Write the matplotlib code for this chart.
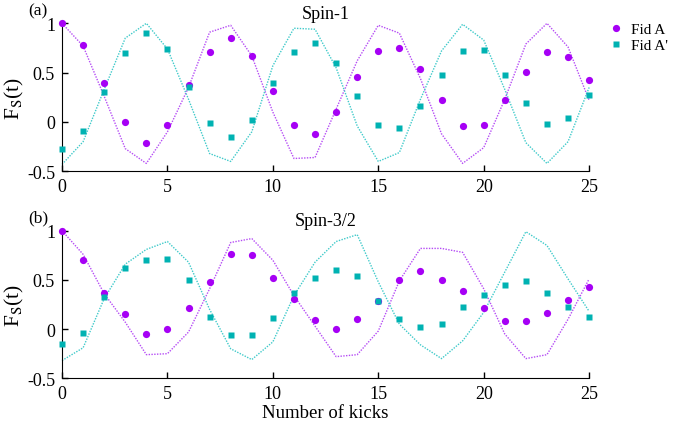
import numpy as np
import matplotlib
matplotlib.use('Agg')
import matplotlib.pyplot as plt

plt.rcParams['font.family'] = ['Liberation Serif', 'DejaVu Serif']
plt.rcParams['mathtext.fontset'] = 'stix'

kicks = np.arange(26)

# spin-1 panel
spin1_fid_a = [1.00, 0.78, 0.39, 0.00, -0.21, -0.03, 0.37, 0.71, 0.85, 0.67,
               0.31, -0.03, -0.12, 0.10, 0.46, 0.72, 0.75, 0.54, 0.22, -0.04,
               -0.03, 0.22, 0.51, 0.71, 0.66, 0.43]
spin1_fid_a2 = [-0.27, -0.09, 0.30, 0.70, 0.90, 0.74, 0.35, -0.01, -0.15, 0.02,
                0.40, 0.71, 0.80, 0.60, 0.26, -0.03, -0.06, 0.16, 0.48, 0.72,
                0.73, 0.48, 0.19, -0.02, 0.04, 0.27]
spin1_line_a = [1.00, 0.77, 0.26, -0.27, -0.42, -0.10, 0.35, 0.91, 0.98, 0.67,
                0.10, -0.37, -0.36, 0.13, 0.62, 0.98, 0.90, 0.44, -0.12, -0.42,
                -0.26, 0.23, 0.79, 1.00, 0.76, 0.22]
spin1_line_a2 = [-0.43, -0.20, 0.33, 0.85, 1.00, 0.74, 0.23, -0.32, -0.40, -0.10,
                 0.57, 0.95, 0.94, 0.55, -0.04, -0.40, -0.31, 0.23, 0.72, 0.99,
                 0.83, 0.33, -0.21, -0.42, -0.20, 0.35]

# spin-3/2 panel
spin32_fid_a = [1.00, 0.70, 0.37, 0.15, -0.05, 0.00, 0.21, 0.48, 0.76, 0.75,
                0.52, 0.31, 0.09, 0.00, 0.10, 0.29, 0.50, 0.59, 0.50, 0.39,
                0.21, 0.08, 0.08, 0.16, 0.30, 0.43]
spin32_fid_a2 = [-0.15, -0.04, 0.33, 0.62, 0.70, 0.71, 0.50, 0.12, -0.06, -0.06,
                 0.11, 0.37, 0.52, 0.60, 0.54, 0.29, 0.10, 0.02, 0.05, 0.22,
                 0.35, 0.45, 0.49, 0.37, 0.22, 0.12]
spin32_line_a = [1.00, 0.76, 0.36, 0.07, -0.26, -0.25, -0.03, 0.41, 0.88, 0.92,
                 0.70, 0.34, 0.03, -0.28, -0.26, -0.02, 0.49, 0.82, 0.82, 0.78,
                 0.41, -0.05, -0.30, -0.26, 0.10, 0.51]
spin32_line_a2 = [-0.32, -0.19, 0.31, 0.66, 0.81, 0.89, 0.68, 0.20, -0.20, -0.31,
                  -0.13, 0.34, 0.68, 0.89, 0.96, 0.48, 0.05, -0.16, -0.30, -0.12,
                  0.17, 0.58, 0.99, 0.85, 0.51, 0.18]

purple = '#a600f5'
purple_line = '#b54cf5'
teal = '#00b2b2'
teal_line = '#3fcaca'

fig = plt.figure(figsize=(7, 4.31), dpi=100)
ax_top = fig.add_axes([0.0886, 0.6002, 0.753, 0.3434])
ax_bot = fig.add_axes([0.0886, 0.1200, 0.753, 0.3424])

panels = [
    (ax_top, spin1_fid_a, spin1_fid_a2, spin1_line_a, spin1_line_a2, 'Spin-1', '(a)'),
    (ax_bot, spin32_fid_a, spin32_fid_a2, spin32_line_a, spin32_line_a2, 'Spin-3/2', '(b)'),
]

for ax, fa, fa2, la, la2, title, tag in panels:
    ax.plot(kicks, la, color=purple_line, lw=1.0, ls=(0, (1, 1)), clip_on=False)
    ax.plot(kicks, la2, color=teal_line, lw=1.0, ls=(0, (1, 1)), clip_on=False)
    ax.plot(kicks, fa, 'o', color=purple, ms=5.2, mec='none', clip_on=False,
            label='Fid A', zorder=3)
    ax.plot(kicks, fa2, 's', color=teal, ms=4.0, mec='none', clip_on=False,
            label="Fid A'", zorder=3)
    ax.set_xlim(0, 25)
    ax.set_ylim(-0.5, 1)
    ax.set_xticks([0, 5, 10, 15, 20, 25])
    ax.set_yticks([-0.5, 0, 0.5, 1])
    ax.set_yticklabels(['-0.5', '0', '0.5', '1'])
    ax.tick_params(direction='in', length=4.5, width=1, labelsize=13, pad=5)
    ax.spines['top'].set_visible(False)
    ax.spines['right'].set_visible(False)
    ax.set_title(title, fontsize=13, pad=4)
    ax.set_ylabel(r'F$_{\rm S}$(t)', fontsize=15.5, labelpad=1)
    ax.text(-0.045, 1.09, tag, transform=ax.transAxes, fontsize=12.5,
            ha='center', va='center')

ax_bot.set_xlabel('Number of kicks', fontsize=13.5, labelpad=1.5)

ax_top.legend(loc='upper left', bbox_to_anchor=(0.869, 0.945),
              bbox_transform=fig.transFigure, frameon=False, fontsize=11,
              handlelength=1.0, handletextpad=0.5, labelspacing=0.15,
              borderpad=0, borderaxespad=0)

fig.savefig('out.png', dpi=100)
